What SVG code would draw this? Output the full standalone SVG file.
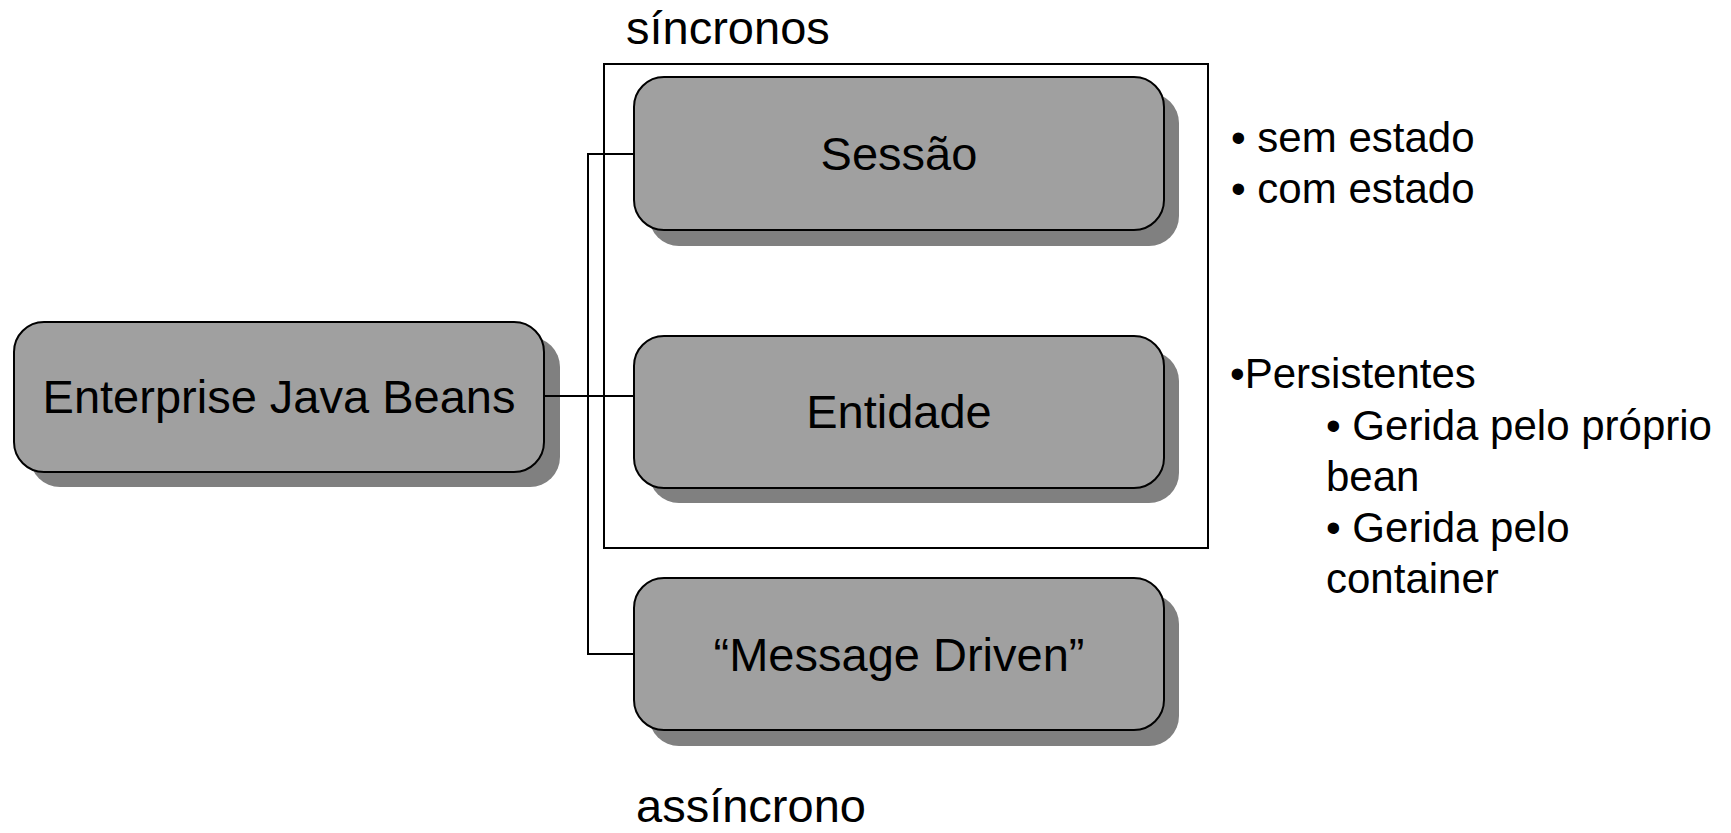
<svg xmlns="http://www.w3.org/2000/svg" width="1731" height="833" viewBox="0 0 1731 833">
  <style>
    text { font-family: "Liberation Sans", Arial, sans-serif; fill: #000; }
    .big { font-size: 47px; }
    .note { font-size: 42px; }
    .box { fill: #A0A0A0; stroke: #000; stroke-width: 2; }
    .shadow { fill: #808080; }
    .frame { fill: none; stroke: #000; stroke-width: 2; }
    .wire { fill: none; stroke: #000; stroke-width: 2; }
  </style>
  <rect width="1731" height="833" fill="#fff"/>

  <!-- group of synchronous beans -->
  <rect class="frame" x="604" y="64" width="604" height="484"/>
  <text class="big" x="626" y="44">síncronos</text>
  <text class="big" x="636" y="822">assíncrono</text>

  <g id="ejb">
    <rect class="shadow" x="30" y="337" width="530" height="150" rx="30"/>
    <rect class="box" x="14" y="322" width="530" height="150" rx="30"/>
    <text class="big" x="279" y="413" text-anchor="middle">Enterprise Java Beans</text>
  </g>

  <g id="sessao">
    <rect class="shadow" x="649" y="93" width="530" height="153" rx="30"/>
    <rect class="box" x="634" y="77" width="530" height="153" rx="30"/>
    <text class="big" x="899" y="170" text-anchor="middle">Sessão</text>
  </g>

  <g id="entidade">
    <rect class="shadow" x="649" y="351" width="530" height="152" rx="30"/>
    <rect class="box" x="634" y="336" width="530" height="152" rx="30"/>
    <text class="big" x="899" y="428" text-anchor="middle">Entidade</text>
  </g>

  <g id="message-driven">
    <rect class="shadow" x="649" y="594" width="530" height="152" rx="30"/>
    <rect class="box" x="634" y="578" width="530" height="152" rx="30"/>
    <text class="big" x="899" y="671" text-anchor="middle">“Message Driven”</text>
  </g>

  <!-- connectors, drawn over the shadows -->
  <g id="connectors">
    <path class="wire" d="M544 396 H634"/>
    <path class="wire" d="M634 154 H588 V654 H634"/>
  </g>

  <!-- notes beside the boxes -->
  <g id="notes-sessao">
    <text class="note" x="1231" y="152">• sem estado</text>
    <text class="note" x="1231" y="203">• com estado</text>
  </g>
  <g id="notes-entidade">
    <text class="note" x="1230" y="388">•Persistentes</text>
    <text class="note" x="1326" y="440">• Gerida pelo próprio</text>
    <text class="note" x="1326" y="491">bean</text>
    <text class="note" x="1326" y="542">• Gerida pelo</text>
    <text class="note" x="1326" y="593">container</text>
  </g>
</svg>
